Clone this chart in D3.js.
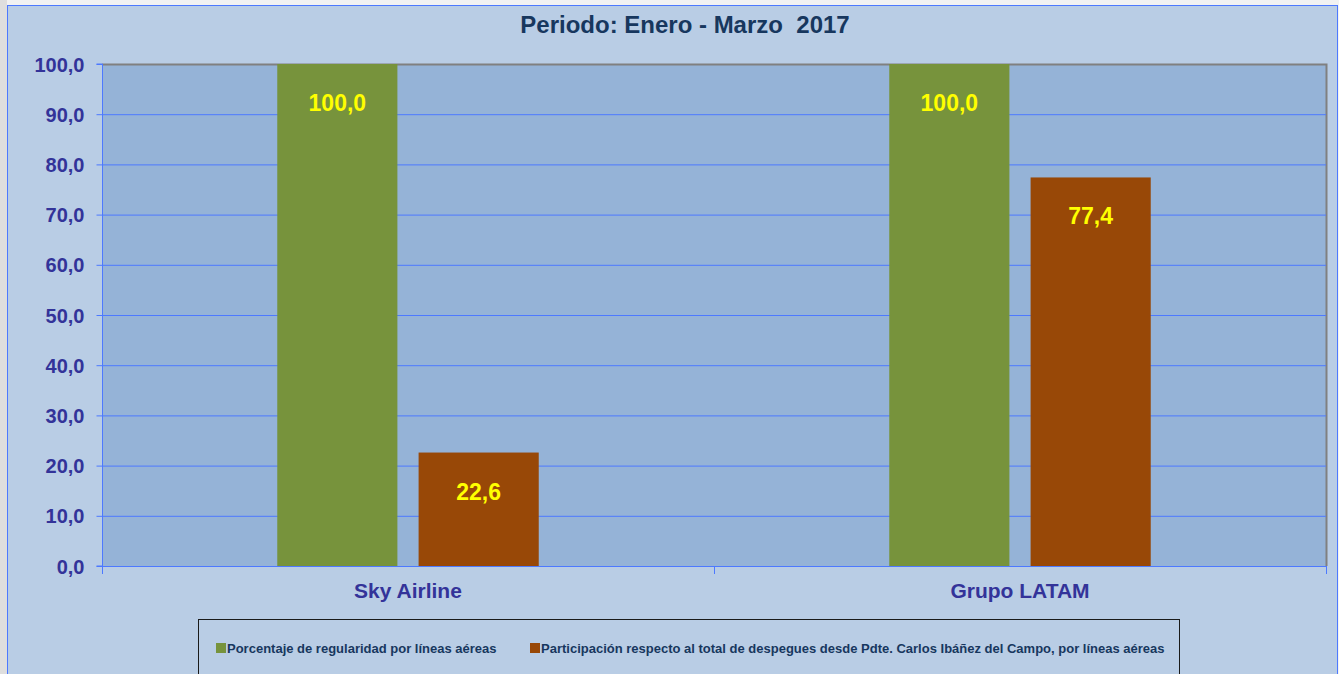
<!DOCTYPE html>
<html>
<head>
    <script src="https://cdn.jsdelivr.net/npm/d3@7"></script>
    <style>
        body {
            margin: 0;
            background-color: #f2f2f2;
            overflow: hidden;
        }

        svg {
            display: block;
            font-family: "Liberation Sans", Arial, sans-serif;
        }

        .title {
            fill: #17375e;
            font-size: 24px;
            font-weight: bold;
            white-space: pre;
        }

        .ylab {
            fill: #333399;
            font-size: 20px;
            font-weight: bold;
        }

        .catlab {
            fill: #333399;
            font-size: 21px;
            font-weight: bold;
        }

        .vlab {
            fill: #ffff00;
            font-size: 23px;
            font-weight: bold;
        }

        .leg {
            fill: #17375e;
            font-size: 13px;
            font-weight: bold;
        }
    </style>
</head>
<body>
    <div id="graph"></div>
    <script>
        const categories = ['Sky Airline', 'Grupo LATAM']
        const series = ['Porcentaje de regularidad por líneas aéreas', 'Participación respecto al total de despegues desde Pdte. Carlos Ibáñez del Campo, por líneas aéreas']
        const colors = ['#77933c', '#984807']
        const regularidad = [100.0, 100.0]
        const participacion = [22.6, 77.4]
        const yTicks = [0, 10, 20, 30, 40, 50, 60, 70, 80, 90, 100]
        const title = 'Periodo: Enero - Marzo  2017'

        const w = 1339, h = 674
        const pLeft = 102, pRight = 1326, pTop = 64, pBottom = 566
        const fmt = v => v.toFixed(1).replace('.', ',')

        const rows = categories.map((c, i) => ({ cat: c, vals: [regularidad[i], participacion[i]] }))

        const svg = d3.select('#graph').append('svg')
            .attr('width', w)
            .attr('height', h)

        // outer frame
        svg.append('rect').attr('x', 0).attr('y', 0).attr('width', 7).attr('height', h).attr('fill', '#dedede')
        svg.append('rect')
            .attr('x', 7.5).attr('y', 5.5)
            .attr('width', 1330).attr('height', h)
            .attr('fill', '#b9cde5')
            .attr('stroke', '#4d79ff')

        svg.append('text')
            .attr('class', 'title')
            .attr('x', 685).attr('y', 33)
            .attr('text-anchor', 'middle')
            .text(title)

        const x0 = d3.scaleBand().domain(categories).range([pLeft, pRight])
        const x1 = d3.scaleBand().domain([0, 1]).range([0, x0.bandwidth()])
            .paddingInner(0.15).paddingOuter(1.24)
        const y = d3.scaleLinear().domain([0, 100]).range([pBottom, pTop])

        // plot area
        svg.append('rect')
            .attr('x', pLeft).attr('y', pTop)
            .attr('width', pRight - pLeft).attr('height', pBottom - pTop)
            .attr('fill', '#95b3d7')
        svg.append('path')
            .attr('d', `M${pLeft},${pTop + 0.5}H${pRight + 0.5}V${pBottom}`)
            .attr('fill', 'none')
            .attr('stroke', '#808080')
            .attr('stroke-width', 2)

        // gridlines
        svg.append('g')
            .selectAll('line')
            .data(yTicks.filter(t => t > 0 && t < 100))
            .enter()
            .append('line')
            .attr('x1', pLeft).attr('x2', pRight)
            .attr('y1', d => y(d) + 0.5).attr('y2', d => y(d) + 0.5)
            .attr('stroke', '#4d79ff')

        // y axis
        const yAxis = svg.append('g')
            .attr('transform', `translate(${pLeft + 0.5},0)`)
            .call(d3.axisLeft(y).tickValues(yTicks).tickSize(6).tickFormat(fmt))
        yAxis.attr('font-size', null).attr('font-family', null)
        yAxis.select('.domain').attr('stroke', '#4d79ff').attr('d', `M-6,${pBottom}H0V${pTop}H-6M0,${pBottom}V${pBottom + 8}`)
        yAxis.selectAll('.tick line').attr('stroke', '#4d79ff')
        yAxis.selectAll('.tick text')
            .attr('class', 'ylab')
            .attr('x', -18)
            .attr('dy', '0.35em')
            .attr('fill', null)

        // bars
        const groups = svg.append('g')
            .selectAll('g')
            .data(rows)
            .enter()
            .append('g')
            .attr('transform', d => `translate(${x0(d.cat)},0)`)

        groups.selectAll('rect')
            .data(d => d.vals)
            .enter()
            .append('rect')
            .attr('x', (d, i) => x1(i))
            .attr('y', d => y(d))
            .attr('width', x1.bandwidth())
            .attr('height', d => pBottom - y(d))
            .attr('fill', (d, i) => colors[i])

        groups.selectAll('.vlab')
            .data(d => d.vals)
            .enter()
            .append('text')
            .attr('class', 'vlab')
            .attr('x', (d, i) => x1(i) + x1.bandwidth() / 2)
            .attr('y', d => y(d) + 47)
            .attr('text-anchor', 'middle')
            .text(fmt)

        // x axis
        const xAxis = svg.append('g')
            .attr('transform', `translate(0,${pBottom + 0.5})`)
            .call(d3.axisBottom(x0).tickSize(0).tickPadding(0))
        xAxis.attr('font-size', null).attr('font-family', null)
        xAxis.select('.domain').attr('stroke', '#4d79ff').attr('d', `M${pLeft},0H${pRight}`)
        xAxis.selectAll('.tick text')
            .attr('class', 'catlab')
            .attr('y', 31)
            .attr('dy', 0)
            .attr('fill', null)
        svg.append('g')
            .selectAll('line')
            .data(categories.slice(1))
            .enter()
            .append('line')
            .attr('x1', d => x0(d) + 0.5).attr('x2', d => x0(d) + 0.5)
            .attr('y1', pBottom).attr('y2', pBottom + 8)
            .attr('stroke', '#4d79ff')
        svg.append('line')
            .attr('x1', pRight + 0.5).attr('x2', pRight + 0.5)
            .attr('y1', pBottom).attr('y2', pBottom + 8)
            .attr('stroke', '#4d79ff')

        // legend
        const legend = svg.append('g')
        legend.append('rect')
            .attr('x', 198.5).attr('y', 619.5)
            .attr('width', 981).attr('height', 80)
            .attr('fill', 'none')
            .attr('stroke', '#1a1a1a')
        const legX = [216, 530]
        series.forEach((s, i) => {
            legend.append('rect')
                .attr('x', legX[i]).attr('y', 643)
                .attr('width', 10).attr('height', 10)
                .attr('fill', colors[i])
            legend.append('text')
                .attr('class', 'leg')
                .attr('x', legX[i] + 11).attr('y', 653)
                .text(s)
        })
    </script>
</body>
</html>
